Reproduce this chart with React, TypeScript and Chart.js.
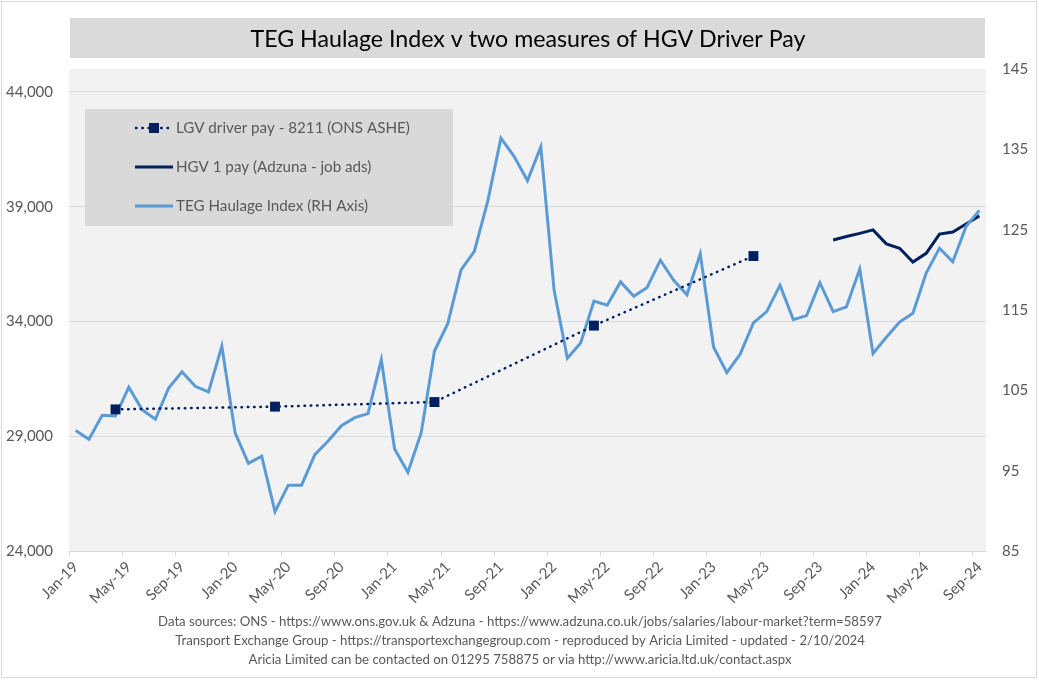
import React, { useEffect, useRef } from 'react';
import { Chart, registerables } from 'chart.js';

Chart.register(...registerables);

const months = [
  'Jan-19','Feb-19','Mar-19','Apr-19','May-19','Jun-19','Jul-19','Aug-19','Sep-19','Oct-19','Nov-19','Dec-19',
  'Jan-20','Feb-20','Mar-20','Apr-20','May-20','Jun-20','Jul-20','Aug-20','Sep-20','Oct-20','Nov-20','Dec-20',
  'Jan-21','Feb-21','Mar-21','Apr-21','May-21','Jun-21','Jul-21','Aug-21','Sep-21','Oct-21','Nov-21','Dec-21',
  'Jan-22','Feb-22','Mar-22','Apr-22','May-22','Jun-22','Jul-22','Aug-22','Sep-22','Oct-22','Nov-22','Dec-22',
  'Jan-23','Feb-23','Mar-23','Apr-23','May-23','Jun-23','Jul-23','Aug-23','Sep-23','Oct-23','Nov-23','Dec-23',
  'Jan-24','Feb-24','Mar-24','Apr-24','May-24','Jun-24','Jul-24','Aug-24','Sep-24',
];

const tegIndex = [
  100.0, 98.9, 101.9, 101.8, 105.4, 102.6, 101.4, 105.3, 107.3, 105.5, 104.8, 110.5,
  99.7, 95.9, 96.8, 89.9, 93.2, 93.2, 97.0, 98.7, 100.6, 101.6, 102.1, 108.8,
  97.7, 94.8, 99.7, 109.9, 113.3, 120.0, 122.3, 128.5, 136.4, 134.1, 131.1, 135.3,
  117.5, 109.0, 110.9, 116.1, 115.6, 118.5, 116.7, 117.8, 121.2, 118.7, 116.9, 122.0,
  110.4, 107.2, 109.5, 113.4, 114.8, 118.1, 113.8, 114.3, 118.4, 114.8, 115.4, 120.1,
  109.6, 111.6, 113.5, 114.6, 119.6, 122.7, 121.0, 125.4, 127.4,
];

const hgvMonths = ['Oct-23','Nov-23','Dec-23','Jan-24','Feb-24','Mar-24','Apr-24','May-24','Jun-24','Jul-24','Aug-24','Sep-24'];
const hgvPay = [37550, 37700, 37840, 37990, 37380, 37190, 36590, 36970, 37810, 37900, 38250, 38600];

const lgvMonths = ['Apr-19','Apr-20','Apr-21','Apr-22','Apr-23'];
const lgvPay = [30170, 30290, 30490, 33820, 36850];

const leftTicks = [24000, 29000, 34000, 39000, 44000];

const titleText = 'TEG Haulage Index v two measures of HGV Driver Pay';
const seriesNames = ['LGV driver pay - 8211 (ONS ASHE)', 'HGV 1 pay (Adzuna - job ads)', 'TEG Haulage Index (RH Axis)'];
const footerLines = [
  'Data sources: ONS - https://www.ons.gov.uk & Adzuna - https://www.adzuna.co.uk/jobs/salaries/labour-market?term=58597',
  'Transport Exchange Group - https://transportexchangegroup.com - reproduced by Aricia Limited - updated - 2/10/2024',
  'Aricia Limited can be contacted on 01295 758875 or via http://www.aricia.ltd.uk/contact.aspx',
];

const FONT = 'Lato, "Noto Sans", sans-serif';
const NAVY = '#002060';
const LIGHT = '#5B9BD5';
const GREY_TEXT = '#595959';
const DOTS = [0.5, 5.8];

export default function App() {
  const ref = useRef<HTMLCanvasElement | null>(null);

  useEffect(() => {
    const canvas = ref.current;
    if (!canvas) return;

    const decor = {
      id: 'decor',
      beforeDraw(chart: any) {
        const { ctx, chartArea: a } = chart;
        ctx.save();
        ctx.fillStyle = '#ffffff';
        ctx.fillRect(0, 0, chart.width, chart.height);
        ctx.strokeStyle = '#D9D9D9';
        ctx.lineWidth = 1;
        ctx.strokeRect(1.5, 1.5, 1035, 676);
        // title box
        ctx.fillStyle = '#DADADA';
        ctx.fillRect(70, 18, 915, 40);
        ctx.fillStyle = '#000000';
        ctx.font = `23.2px ${FONT}`;
        ctx.textAlign = 'center';
        ctx.textBaseline = 'alphabetic';
        ctx.fillText(titleText, 528, 47);
        // plot background
        ctx.fillStyle = '#F2F2F2';
        ctx.fillRect(a.left, a.top, a.right - a.left, a.bottom - a.top);
        // footer
        ctx.fillStyle = GREY_TEXT;
        ctx.font = `13.2px ${FONT}`;
        ctx.textBaseline = 'middle';
        footerLines.forEach((t, i) => ctx.fillText(t, 520, 622 + i * 19));
        ctx.restore();
      },
      afterDraw(chart: any) {
        const { ctx } = chart;
        ctx.save();
        ctx.fillStyle = '#D9D9D9';
        ctx.fillRect(85, 109, 368, 117);
        const rows = [128, 167, 206];
        // LGV dotted with square
        ctx.strokeStyle = NAVY;
        ctx.lineWidth = 2.5;
        ctx.lineCap = 'round';
        ctx.setLineDash(DOTS);
        ctx.beginPath();
        ctx.moveTo(136, rows[0]);
        ctx.lineTo(173, rows[0]);
        ctx.stroke();
        ctx.setLineDash([]);
        ctx.fillStyle = NAVY;
        ctx.fillRect(149, rows[0] - 5, 10, 10);
        ctx.lineCap = 'butt';
        ctx.lineWidth = 3;
        ctx.beginPath();
        ctx.moveTo(135, rows[1]);
        ctx.lineTo(173, rows[1]);
        ctx.stroke();
        ctx.strokeStyle = LIGHT;
        ctx.beginPath();
        ctx.moveTo(135, rows[2]);
        ctx.lineTo(173, rows[2]);
        ctx.stroke();
        ctx.fillStyle = GREY_TEXT;
        ctx.font = `15.2px ${FONT}`;
        ctx.textAlign = 'left';
        ctx.textBaseline = 'middle';
        seriesNames.forEach((t, i) => ctx.fillText(t, 176, rows[i]));
        ctx.restore();
      },
    };

    const tickFont = { family: FONT, size: 15 };

    const chart = new Chart(canvas, {
      type: 'line',
      data: {
        labels: months,
        datasets: [
          {
            label: seriesNames[0],
            data: lgvMonths.map((m, i) => ({ x: m, y: lgvPay[i] })) as any,
            yAxisID: 'y',
            borderColor: NAVY,
            backgroundColor: NAVY,
            borderWidth: 2.5,
            borderDash: DOTS,
            borderCapStyle: 'round',
            pointStyle: 'rect',
            pointRadius: 7,
            pointBorderWidth: 0,
            pointBackgroundColor: NAVY,
            tension: 0,
            order: 0,
          },
          {
            label: seriesNames[1],
            data: hgvMonths.map((m, i) => ({ x: m, y: hgvPay[i] })) as any,
            yAxisID: 'y',
            borderColor: NAVY,
            backgroundColor: NAVY,
            borderWidth: 3,
            pointRadius: 0,
            tension: 0,
            order: 2,
          },
          {
            label: seriesNames[2],
            data: tegIndex,
            yAxisID: 'y1',
            borderColor: LIGHT,
            backgroundColor: LIGHT,
            borderWidth: 3,
            pointRadius: 0,
            tension: 0,
            order: 1,
          },
        ],
      },
      options: {
        responsive: false,
        animation: false,
        events: [],
        layout: { padding: { top: 69, left: 0, right: 0, bottom: 0 } },
        plugins: {
          legend: { display: false },
          tooltip: { enabled: false },
          title: { display: false },
        },
        scales: {
          x: {
            type: 'category',
            offset: true,
            grid: {
              offset: true,
              drawOnChartArea: false,
              drawTicks: true,
              tickLength: 5,
              color: (c: any) => (typeof c.index === 'number' && c.index % 4 === 0 ? '#D9D9D9' : 'rgba(0,0,0,0)'),
            },
            border: { display: true, color: '#D9D9D9' },
            ticks: {
              autoSkip: false,
              maxRotation: 45,
              minRotation: 45,
              color: GREY_TEXT,
              font: tickFont,
              padding: 2,
              callback: (_v: any, i: number) => (i % 4 === 0 ? months[i] : ''),
            },
            afterFit: (s: any) => { s.height = 130; },
          },
          y: {
            type: 'linear',
            position: 'left',
            min: 24000,
            max: 45000,
            afterBuildTicks: (s: any) => { s.ticks = leftTicks.map((v) => ({ value: v })); },
            grid: { color: '#D9D9D9', drawTicks: false, lineWidth: 1 },
            border: { display: false },
            ticks: {
              color: GREY_TEXT,
              font: tickFont,
              padding: 16,
              callback: (v: any) => Number(v).toLocaleString('en-GB'),
            },
            afterFit: (s: any) => { s.width = 69; },
          },
          y1: {
            type: 'linear',
            position: 'right',
            min: 85,
            max: 145,
            grid: { drawOnChartArea: false, drawTicks: false },
            border: { display: false },
            ticks: { stepSize: 10, color: GREY_TEXT, font: tickFont, padding: 16 },
            afterFit: (s: any) => { s.width = 53; },
          },
        },
      } as any,
      plugins: [decor],
    });

    return () => chart.destroy();
  }, []);

  return (
    <div style={{ position: 'absolute', left: 0, top: 0, width: 1039, height: 681 }}>
      <canvas ref={ref} width={1039} height={681} style={{ display: 'block' }} />
    </div>
  );
}
